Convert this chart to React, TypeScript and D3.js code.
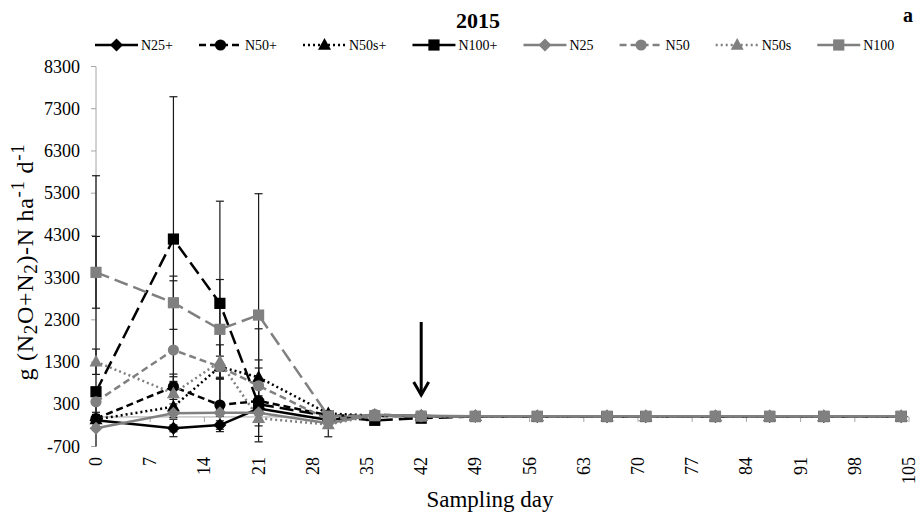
import React from 'react';
import * as d3 from 'd3';

// Sampling days (days after fertilisation)
const days = [0, 10, 16, 21, 30, 36, 42, 49, 57, 66, 71, 80, 87, 94, 104];

const seriesNames = ['N25+', 'N50+', 'N50s+', 'N100+', 'N25', 'N50', 'N50s', 'N100'];

// Mean flux, g (N2O+N2)-N ha-1 d-1
const n25Plus = [-80, -270, -192, 200, -70, 40, 20, 15, 10, 10, 10, 10, 10, 10, 10];
const n50Plus = [-40, 715, 282, 380, 40, 20, 20, 15, 10, 10, 10, 10, 10, 10, 10];
const n50sPlus = [-60, 242, 1190, 938, 80, 30, 20, 15, 10, 10, 10, 10, 10, 10, 10];
const n100Plus = [597, 4213, 2690, 300, 20, -80, -30, 10, 10, 10, 10, 10, 10, 10, 10];
const n25 = [-270, 85, 100, 100, -150, 50, 20, 15, 15, 15, 15, 15, 15, 15, 15];
const n50 = [360, 1585, 1189, 739, -60, 60, 20, 15, 15, 15, 15, 15, 15, 15, 15];
const n50s = [1308, 558, 1308, -30, -180, 40, 20, 15, 15, 15, 15, 15, 15, 15, 15];
const n100 = [3425, 2705, 2075, 2413, 20, 30, 20, 15, 15, 15, 15, 15, 15, 15, 15];

// Standard deviations
const n25PlusErr = [50, 80, 100, 100, 0, 0, 0, 0, 0, 0, 0, 0, 0, 0, 0];
const n50PlusErr = [100, 300, 630, 970, 0, 0, 0, 0, 0, 0, 0, 0, 0, 0, 0];
const n50sPlusErr = [100, 710, 250, 1150, 0, 0, 0, 0, 0, 0, 0, 0, 0, 0, 0];
const n100PlusErr = [5116, 3371, 2420, 200, 0, 0, 0, 0, 0, 0, 0, 0, 0, 0, 0];
const n25Err = [50, 100, 80, 60, 0, 0, 0, 0, 0, 0, 0, 0, 0, 0, 0];
const n50Err = [250, 1640, 100, 420, 0, 0, 0, 0, 0, 0, 0, 0, 0, 0, 0];
const n50sErr = [300, 250, 400, 100, 290, 0, 0, 0, 0, 0, 0, 0, 0, 0, 0];
const n100Err = [850, 630, 1180, 2874, 0, 0, 0, 0, 0, 0, 0, 0, 0, 0, 0];

const seriesValues = [n25Plus, n50Plus, n50sPlus, n100Plus, n25, n50, n50s, n100];
const seriesErrors = [n25PlusErr, n50PlusErr, n50sPlusErr, n100PlusErr, n25Err, n50Err, n50sErr, n100Err];

const xTickValues = d3.range(0, 106, 7);
const yTickValues = d3.range(-700, 8301, 1000);

// Arrow marking day 42
const arrowDay = 42;
const arrowFrom = 2250;
const arrowTo = 520;

const BLACK = '#000000';
const GREY = '#808080';
const FONT = '"Liberation Serif", "Times New Roman", serif';

type Shape = 'diamond' | 'circle' | 'triangle' | 'square';
const seriesStyle: { color: string; dash: string | null; shape: Shape }[] = [
  { color: BLACK, dash: null, shape: 'diamond' },
  { color: BLACK, dash: '7,4', shape: 'circle' },
  { color: BLACK, dash: '2,3', shape: 'triangle' },
  { color: BLACK, dash: '14,6', shape: 'square' },
  { color: GREY, dash: null, shape: 'diamond' },
  { color: GREY, dash: '7,4', shape: 'circle' },
  { color: GREY, dash: '2,3', shape: 'triangle' },
  { color: GREY, dash: '14,6', shape: 'square' },
];

const W = 920;
const H = 519;
const x = d3.scaleLinear().domain([0, 105]).range([96, 909]);
const y = d3.scaleLinear().domain([-700, 8300]).range([446.5, 66.5]);

function Marker({ shape, cx, cy, fill }: { shape: Shape; cx: number; cy: number; fill: string }) {
  if (shape === 'circle') return <circle cx={cx} cy={cy} r={5.6} fill={fill} />;
  if (shape === 'square') return <rect x={cx - 5.6} y={cy - 5.6} width={11.2} height={11.2} fill={fill} />;
  if (shape === 'triangle') {
    const pts = [[cx, cy - 7], [cx + 6.5, cy + 4.8], [cx - 6.5, cy + 4.8]];
    return <polygon points={pts.map((p) => p.join(',')).join(' ')} fill={fill} />;
  }
  const pts = [[cx, cy - 6.5], [cx + 6.5, cy], [cx, cy + 6.5], [cx - 6.5, cy]];
  return <polygon points={pts.map((p) => p.join(',')).join(' ')} fill={fill} />;
}

function measure(text: string, font: string): number {
  const c = document.createElement('canvas').getContext('2d');
  if (!c) return text.length * 8;
  c.font = font;
  return c.measureText(text).width;
}

export default function App() {
  const line = d3
    .line<number>()
    .x((_, i) => x(days[i]))
    .y((v) => y(v));

  const [yTop, yBottom] = [y(8300), y(-700)];
  const clampY = (py: number) => Math.max(yTop, Math.min(yBottom, py));

  // Legend layout
  const legendFontSize = 14;
  const legendFont = `${legendFontSize}px "Liberation Serif"`;
  const legendY = 45;
  const lineLen = 43;
  let cursor = 95;
  const legendItems = seriesNames.map((name, i) => {
    const start = cursor;
    const tw = measure(name, legendFont);
    cursor = start + lineLen + 3 + tw + 26;
    return { name, i, start, textX: start + lineLen + 3 };
  });

  return (
    <svg
      width={W}
      height={H}
      viewBox={`0 0 ${W} ${H}`}
      style={{ position: 'absolute', left: 0, top: 0, background: '#fff', fontFamily: FONT }}
    >
      <rect width={W} height={H} fill="#fff" />

      {/* Title */}
      <text x={478} y={28} textAnchor="middle" fontSize={22} fontWeight="bold" fill="#000">
        2015
      </text>
      <text x={913} y={22} textAnchor="end" fontSize={20} fontWeight="bold" fill="#000">
        a
      </text>

      {/* Legend */}
      {legendItems.map(({ name, i, start, textX }) => {
        const st = seriesStyle[i];
        return (
          <g key={name}>
            <line
              x1={start}
              x2={start + lineLen}
              y1={legendY}
              y2={legendY}
              stroke={st.color}
              strokeWidth={2.5}
              strokeDasharray={st.dash && st.dash !== '14,6' ? st.dash : undefined}
            />
            <Marker shape={st.shape} cx={start + lineLen / 2} cy={legendY} fill={st.color} />
            <text x={textX} y={legendY} dominantBaseline="central" fontSize={legendFontSize} fill="#000">
              {name}
            </text>
          </g>
        );
      })}

      {/* Y axis */}
      <line x1={x(0)} x2={x(0)} y1={yTop} y2={yBottom} stroke="#a6a6a6" strokeWidth={1} />
      {yTickValues.map((t) => (
        <g key={t}>
          <line x1={x(0) - 5} x2={x(0)} y1={y(t)} y2={y(t)} stroke="#a6a6a6" strokeWidth={1} />
          <text x={80} y={y(t)} textAnchor="end" dominantBaseline="central" fontSize={18} fill="#000">
            {t}
          </text>
        </g>
      ))}

      {/* X axis along zero */}
      <line x1={x(0)} x2={x(105)} y1={y(0)} y2={y(0)} stroke="#a6a6a6" strokeWidth={1} />
      {xTickValues.map((t) => (
        <g key={t}>
          <line x1={x(t)} x2={x(t)} y1={y(0)} y2={y(0) + 5} stroke="#a6a6a6" strokeWidth={1} />
          <text
            transform={`translate(${x(t)},457) rotate(-90)`}
            textAnchor="end"
            dominantBaseline="central"
            fontSize={18}
            fill="#000"
          >
            {t}
          </text>
        </g>
      ))}

      {/* Axis titles */}
      <text x={490} y={507} textAnchor="middle" fontSize={23} fill="#000">
        Sampling day
      </text>
      <text
        transform="translate(33,262) rotate(-90)"
        textAnchor="middle"
        fontSize={24}
        letterSpacing={0.7}
        fill="#000"
      >
        g (N
        <tspan fontSize={19} dy={4}>2</tspan>
        <tspan dy={-4}>O+N</tspan>
        <tspan fontSize={19} dy={4}>2</tspan>
        <tspan dy={-4}>)-N ha</tspan>
        <tspan fontSize={19} dy={-9}>-1</tspan>
        <tspan dy={9}> d</tspan>
        <tspan fontSize={19} dy={-9}>-1</tspan>
      </text>

      {/* Error bars */}
      {seriesValues.map((vals, si) => (
        <g key={`err-${si}`}>
          {vals.map((v, i) => {
            const e = seriesErrors[si][i];
            if (!e) return null;
            const cx = x(days[i]);
            const hiRaw = y(v + e);
            const loRaw = y(v - e);
            const hi = clampY(hiRaw);
            const lo = clampY(loRaw);
            return (
              <g key={i} stroke="#1a1a1a" strokeWidth={1.2}>
                <line x1={cx} x2={cx} y1={hi} y2={lo} />
                {hiRaw >= yTop && <line x1={cx - 4} x2={cx + 4} y1={hi} y2={hi} />}
                {loRaw <= yBottom && <line x1={cx - 4} x2={cx + 4} y1={lo} y2={lo} />}
              </g>
            );
          })}
        </g>
      ))}

      {/* Series lines and markers */}
      {seriesValues.map((vals, si) => {
        const st = seriesStyle[si];
        return (
          <g key={`s-${si}`}>
            <path
              d={line(vals) || ''}
              fill="none"
              stroke={st.color}
              strokeWidth={2.5}
              strokeDasharray={st.dash || undefined}
            />
            {vals.map((v, i) => (
              <Marker key={i} shape={st.shape} cx={x(days[i])} cy={y(v)} fill={st.color} />
            ))}
          </g>
        );
      })}

      {/* Arrow */}
      <g stroke="#000" strokeWidth={3} fill="none">
        <line x1={x(arrowDay)} x2={x(arrowDay)} y1={y(arrowFrom)} y2={y(arrowTo) - 1} />
        <polyline
          points={`${x(arrowDay) - 7.5},${y(arrowTo) - 13} ${x(arrowDay)},${y(arrowTo)} ${x(arrowDay) + 7.5},${y(arrowTo) - 13}`}
        />
      </g>
    </svg>
  );
}
